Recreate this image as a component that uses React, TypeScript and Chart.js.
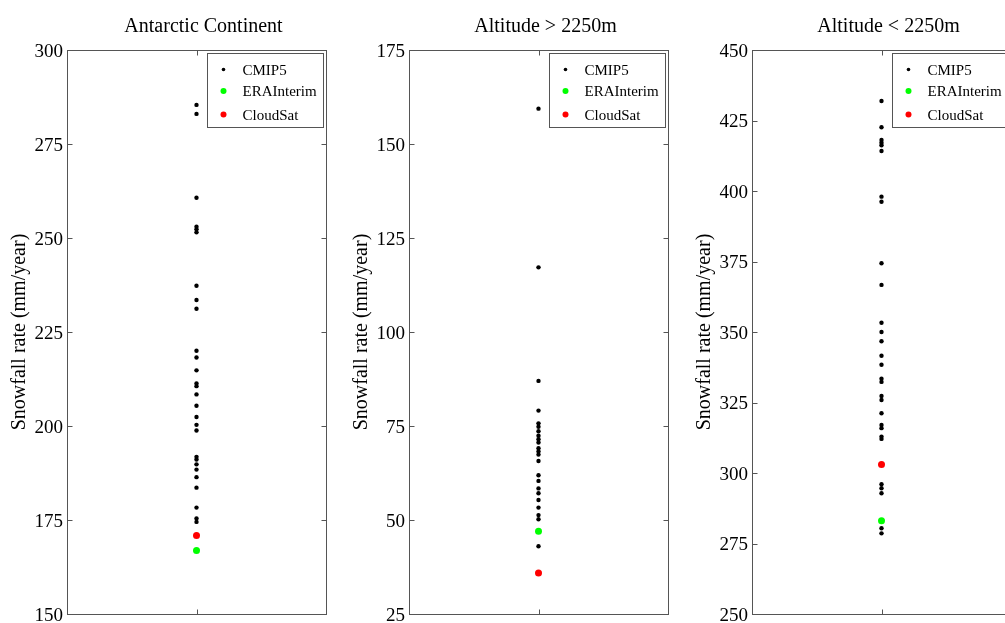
import React, { useEffect, useRef } from "react";
import { Chart, registerables } from "chart.js";

Chart.register(...registerables);

const panelTitles = ["Antarctic Continent", "Altitude > 2250m", "Altitude < 2250m"];
const seriesLabels = ["CMIP5", "ERAInterim", "CloudSat"];
const yAxisTitle = "Snowfall rate (mm/year)";

const antarcticCmip5 = [285.4, 283.0, 260.7, 253.0, 252.3, 251.5, 237.3, 233.5, 231.2, 220.0, 218.2, 214.8, 211.3, 210.6, 208.4, 205.4, 202.4, 200.3, 198.8, 191.8, 191.1, 189.8, 188.4, 186.4, 183.6, 178.3, 175.4, 174.5];
const antarcticEra = [166.9];
const antarcticCloudSat = [170.9];

const highCmip5 = [159.4, 117.2, 87.0, 79.1, 75.7, 74.8, 73.6, 72.4, 71.5, 70.6, 69.1, 68.2, 67.4, 65.7, 61.9, 60.4, 58.4, 57.1, 55.3, 53.3, 51.3, 50.2, 43.0];
const highEra = [47.0];
const highCloudSat = [35.9];

const lowCmip5 = [431.9, 422.6, 418.1, 417.1, 416.2, 414.2, 398.0, 396.2, 374.4, 366.7, 353.3, 350.0, 346.7, 341.6, 338.4, 333.4, 332.3, 327.3, 325.9, 321.2, 317.0, 315.9, 312.9, 312.1, 296.0, 294.6, 292.8, 280.4, 278.6];
const lowEra = [283.1];
const lowCloudSat = [303.0];

const yMins = [150, 25, 250];
const yMaxs = [300, 175, 450];
const yStep = 25;

const panelSeries = [
  [antarcticCmip5, antarcticEra, antarcticCloudSat],
  [highCmip5, highEra, highCloudSat],
  [lowCmip5, lowEra, lowCloudSat],
];

const seriesColors = ["#000000", "#00ff00", "#ff0000"];
const seriesRadius = [2.2, 3.5, 3.5];
const legendRadius = [1.8, 3, 3];
const FONT = "'Liberation Serif', 'Times New Roman', serif";
const AXIS_COLOR = "#555555";

const framePlugin = {
  id: "frame",
  afterDraw(chart: any) {
    const { ctx, chartArea: a, scales } = chart;
    const ys = scales.y;
    const xs = scales.x;
    ctx.save();
    ctx.strokeStyle = AXIS_COLOR;
    ctx.lineWidth = 1;
    const L = Math.round(a.left) + 0.5;
    const R = Math.round(a.right) + 0.5;
    const T = Math.round(a.top) + 0.5;
    const B = Math.round(a.bottom) + 0.5;
    ctx.strokeRect(L, T, R - L, B - T);
    const tl = 5;
    ctx.beginPath();
    ys.ticks.forEach((t: any) => {
      const y = Math.round(ys.getPixelForValue(t.value)) + 0.5;
      ctx.moveTo(L, y);
      ctx.lineTo(L + tl, y);
      ctx.moveTo(R, y);
      ctx.lineTo(R - tl, y);
    });
    const cx = Math.round(xs.getPixelForValue(1)) + 0.5;
    ctx.moveTo(cx, B);
    ctx.lineTo(cx, B - tl);
    ctx.moveTo(cx, T);
    ctx.lineTo(cx, T + tl);
    ctx.stroke();

    // title
    const title = chart.options.plugins.frameTitle;
    ctx.fillStyle = "#000";
    ctx.font = `20px ${FONT}`;
    ctx.textAlign = "center";
    ctx.textBaseline = "alphabetic";
    ctx.fillText(title, (a.left + a.right) / 2 + 7, 32);

    // legend
    const bx = Math.round(a.left + 140) + 0.5;
    const by = Math.round(a.top + 3) + 0.5;
    const bw = 116;
    const bh = 74;
    ctx.fillStyle = "#fff";
    ctx.fillRect(bx, by, bw, bh);
    ctx.strokeStyle = AXIS_COLOR;
    ctx.strokeRect(bx, by, bw, bh);
    const rows = [16, 37.5, 61];
    chart.data.datasets.forEach((ds: any, i: number) => {
      const yy = by + rows[i];
      ctx.beginPath();
      ctx.fillStyle = ds.backgroundColor;
      ctx.arc(bx + 16, yy, legendRadius[i], 0, Math.PI * 2);
      ctx.fill();
      ctx.fillStyle = "#000";
      ctx.font = `15px ${FONT}`;
      ctx.textAlign = "left";
      ctx.textBaseline = "middle";
      ctx.fillText(ds.label, bx + 35, yy + 1.5);
    });
    ctx.restore();
  },
};

function Panel({ idx, left }: { idx: number; left: number }) {
  const ref = useRef<HTMLCanvasElement>(null);
  useEffect(() => {
    const series = panelSeries[idx];
    const chart = new Chart(ref.current as HTMLCanvasElement, {
      type: "scatter",
      data: {
        datasets: series.map((vals, i) => ({
          label: seriesLabels[i],
          data: vals.map((v) => ({ x: 1, y: v })),
          backgroundColor: seriesColors[i],
          borderColor: seriesColors[i],
          borderWidth: 0,
          pointRadius: seriesRadius[i],
          pointHoverRadius: seriesRadius[i],
        })),
      },
      options: {
        responsive: false,
        animation: false,
        events: [],
        layout: { padding: { top: 50, bottom: 36, left: 0, right: 16 } },
        plugins: {
          legend: { display: false },
          tooltip: { enabled: false },
          title: { display: false },
          frameTitle: panelTitles[idx],
        } as any,
        scales: {
          x: { type: "linear", display: false, min: 0, max: 2 },
          y: {
            type: "linear",
            min: yMins[idx],
            max: yMaxs[idx],
            ticks: {
              stepSize: yStep,
              font: { family: FONT, size: 19 },
              color: "#000",
              padding: 4,
              labelOffset: 2,
            },
            grid: { display: false, drawTicks: false },
            border: { display: false },
            title: {
              display: true,
              text: yAxisTitle,
              font: { family: FONT, size: 20 },
              color: "#000",
              padding: { top: 8, bottom: 0 },
            },
            afterFit: (s: any) => {
              s.width = 67;
            },
          },
        },
      } as any,
      plugins: [framePlugin],
    });
    return () => chart.destroy();
  }, [idx]);
  return (
    <canvas
      ref={ref}
      width={342}
      height={650}
      style={{ position: "absolute", left, top: 0, width: 342, height: 650 }}
    />
  );
}

export default function App() {
  return (
    <div
      style={{
        position: "fixed",
        left: 0,
        top: 0,
        width: 1005,
        height: 623,
        overflow: "hidden",
        background: "#fff",
      }}
    >
      <Panel idx={0} left={0} />
      <Panel idx={1} left={342} />
      <Panel idx={2} left={685} />
    </div>
  );
}
